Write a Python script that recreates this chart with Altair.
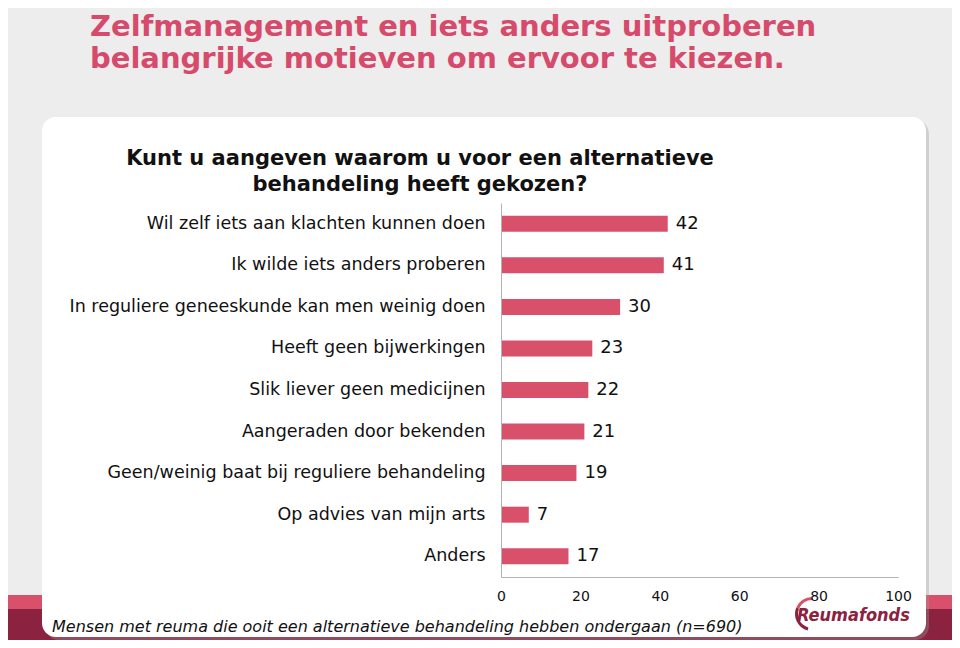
import altair as alt
import pandas as pd

# ---------------- data ----------------
categories = [
    "Wil zelf iets aan klachten kunnen doen",
    "Ik wilde iets anders proberen",
    "In reguliere geneeskunde kan men weinig doen",
    "Heeft geen bijwerkingen",
    "Slik liever geen medicijnen",
    "Aangeraden door bekenden",
    "Geen/weinig baat bij reguliere behandeling",
    "Op advies van mijn arts",
    "Anders",
]
values = [42, 41, 30, 23, 22, 21, 19, 7, 17]
x_ticks = [0, 20, 40, 60, 80, 100]

title_lines = [
    "Zelfmanagement en iets anders uitproberen",
    "belangrijke motieven om ervoor te kiezen.",
]
subtitle_lines = [
    "Kunt u aangeven waarom u voor een alternatieve",
    "behandeling heeft gekozen?",
]
footer_text = "Mensen met reuma die ooit een alternatieve behandeling hebben ondergaan (n=690)"
logo_text = "Reumafonds"

df = pd.DataFrame({"reden": categories, "pct": values})
one = pd.DataFrame({"d": [0]})

# ---------------- layout ----------------
W, H = 397, 374
PL, PT = 493, 195
OX, OY = PL + 8, PT + 8  # plot origin on the page


def px(x):
    return x - OX


def py(y):
    return y - OY


PINK = "#d9506b"
TITLE_PINK = "#d64a6b"
MAROON = "#8a2240"
TXT = "#111111"
FONT = "DejaVu Sans"

base1 = alt.Chart(one)

band_pink = base1.mark_rect(color=PINK).encode(
    x=alt.value(px(0)), x2=alt.value(px(960)), y=alt.value(py(595)), y2=alt.value(py(609))
)
band_maroon = base1.mark_rect(color=MAROON).encode(
    x=alt.value(px(0)), x2=alt.value(px(960)), y=alt.value(py(609)), y2=alt.value(py(660))
)
shadow = base1.mark_rect(color="#9a9a9a", opacity=0.35, cornerRadius=14).encode(
    x=alt.value(px(45)), x2=alt.value(px(929)), y=alt.value(py(120)), y2=alt.value(py(640))
)
card = base1.mark_rect(color="white", cornerRadius=14).encode(
    x=alt.value(px(42)), x2=alt.value(px(926)), y=alt.value(py(117)), y2=alt.value(py(637))
)

title = base1.mark_text(
    text=title_lines, align="left", baseline="alphabetic", font=FONT,
    fontWeight="bold", fontSize=29, lineHeight=32, color=TITLE_PINK,
).encode(x=alt.value(px(90)), y=alt.value(py(36)))

subtitle = base1.mark_text(
    text=subtitle_lines, align="center", baseline="alphabetic", font=FONT,
    fontWeight="bold", fontSize=21, lineHeight=26, color=TXT,
).encode(x=alt.value(px(420)), y=alt.value(py(165)))

footer = base1.mark_text(
    text=footer_text, align="left", baseline="alphabetic", font=FONT,
    fontStyle="italic", fontSize=16, color=TXT,
).encode(x=alt.value(px(52)), y=alt.value(py(632)))

logo = base1.mark_text(
    text=logo_text, align="left", baseline="alphabetic",
    font="DejaVu Sans Condensed, DejaVu Sans",
    fontStyle="italic", fontWeight="bold", fontSize=18, color=MAROON,
).encode(x=alt.value(px(797)), y=alt.value(py(621)))

arc_maroon = base1.mark_arc(color=MAROON, radius=17, radius2=14).encode(
    x=alt.value(px(812)), y=alt.value(py(614)),
    theta=alt.value(3.4), theta2=alt.value(5.1),
)
arc_pink = base1.mark_arc(color=PINK, radius=17, radius2=14).encode(
    x=alt.value(px(812)), y=alt.value(py(614)),
    theta=alt.value(5.1), theta2=alt.value(6.3),
)

base = alt.Chart(df)
y_enc = alt.Y(
    "reden:N", sort=categories,
    scale=alt.Scale(paddingInner=0.615, paddingOuter=0.3075),
    axis=alt.Axis(title=None, ticks=False, labelPadding=16, labelFontSize=17.5,
                  labelFont=FONT, labelColor=TXT, domainColor="#b3b3b3",
                  labelLimit=600, zindex=2),
)
x_enc = alt.X(
    "pct:Q", scale=alt.Scale(domain=[0, 100]),
    axis=alt.Axis(values=x_ticks, title=None, grid=False, ticks=False,
                  labelPadding=12, labelFontSize=14, labelFont=FONT,
                  labelColor=TXT, domainColor="#b3b3b3", labelFlush=False,
                  zindex=2),
)
bars = base.mark_bar(color=PINK).encode(x=x_enc, y=y_enc)
labels = base.mark_text(
    align="left", baseline="middle", dx=8, fontSize=18, font=FONT, color=TXT
).encode(x="pct:Q", y=alt.Y("reden:N", sort=categories), text="pct:Q")

chart = alt.layer(
    band_pink, band_maroon, shadow, card, title, subtitle, footer,
    arc_maroon, arc_pink, logo, bars, labels,
).properties(
    width=W, height=H,
    autosize=alt.AutoSizeParams(type="none"),
    padding={"left": PL, "top": PT, "right": 944 - PL - W, "bottom": 632 - PT - H},
    background="#ededed",
).configure_view(stroke=None)

chart.save("out.html", embed_options={"renderer": "svg", "actions": False})
